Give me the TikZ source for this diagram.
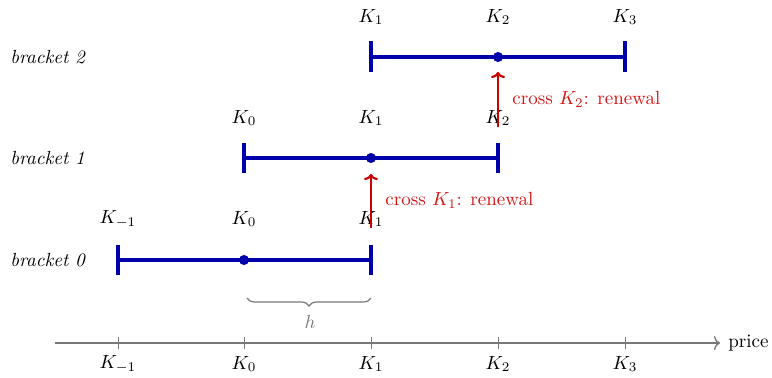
\documentclass[tikz,border=0pt]{standalone}
\usetikzlibrary{decorations.pathreplacing,arrows.meta}
\definecolor{brblue}{RGB}{0,0,170}
\definecolor{crred}{RGB}{204,0,0}
\definecolor{crtext}{RGB}{212,20,20}
\definecolor{axgray}{RGB}{120,120,120}
\tikzset{
  bracketline/.style={brblue, line width=2.1pt},
  endtick/.style={brblue, line width=2.1pt},
  dotmark/.style={circle, fill=brblue, inner sep=0pt, minimum size=5.3pt},
  blabel/.style={anchor=west, font=\itshape, inner sep=0pt},
  crossarrow/.style={crred, line width=1.15pt, -{To[length=3.2pt,width=7.4pt]}},
  crosslabel/.style={crtext, anchor=west, inner sep=0pt},
  axisline/.style={axgray, line width=0.7pt, -{To[length=3.2pt,width=7.4pt]}},
  axtick/.style={axgray, line width=0.45pt},
}
\begin{document}
\begin{tikzpicture}[x=0.5263pt,y=-0.5263pt]
\useasboundingbox (0,0) rectangle (772,378);
% axis
\coordinate (axs) at (55,343);
\coordinate (axe) at (720,343);
\draw[axisline] (axs) -- (axe);
\node[anchor=west, inner sep=0pt] (price) at (728,343) {price};
\foreach \x/\l/\n in {118/{-1}/m,244/0/a,371/1/b,498/2/c,625/3/d}{
  \coordinate (t\n u) at (\x,337);
  \coordinate (t\n d) at (\x,349);
  \draw[axtick] (t\n u) -- (t\n d);
  \node (al\n) at (\x,364) {$K_{\l}$};
}
% bracket 0
\coordinate (b0l) at (118,260); \coordinate (b0r) at (371,260);
\draw[bracketline] (b0l) -- (b0r);
\draw[endtick] (118,245) -- (118,275);
\draw[endtick] (371,245) -- (371,275);
\node[dotmark] (b0d) at (244,260) {};
\node (k0a) at (118,219) {$K_{-1}$};
\node (k0b) at (244,219) {$K_{0}$};
\node (k0c) at (371,219) {$K_{1}$};
\node[blabel] (bl0) at (10,260) {bracket 0};
% bracket 1
\coordinate (b1l) at (244,158); \coordinate (b1r) at (498,158);
\draw[bracketline] (b1l) -- (b1r);
\draw[endtick] (244,143) -- (244,173);
\draw[endtick] (498,143) -- (498,173);
\node[dotmark] (b1d) at (371,158) {};
\node (k1a) at (244,118) {$K_{0}$};
\node (k1b) at (371,118) {$K_{1}$};
\node (k1c) at (498,118) {$K_{2}$};
\node[blabel] (bl1) at (10,158) {bracket 1};
% bracket 2
\coordinate (b2l) at (371,57); \coordinate (b2r) at (625,57);
\draw[bracketline] (b2l) -- (b2r);
\draw[endtick] (371,41) -- (371,72);
\draw[endtick] (625,41) -- (625,72);
\node[dotmark] (b2d) at (498,57) {};
\node (k2a) at (371,17) {$K_{1}$};
\node (k2b) at (498,17) {$K_{2}$};
\node (k2c) at (625,17) {$K_{3}$};
\node[blabel] (bl2) at (10,57) {bracket 2};
% cross arrows
\coordinate (c1s) at (371,228); \coordinate (c1e) at (371,174);
\draw[crossarrow] (c1s) -- (c1e);
\node[crosslabel] (cl1) at (385,200) {cross $K_1$: renewal};
\coordinate (c2s) at (498,127); \coordinate (c2e) at (498,72);
\draw[crossarrow] (c2s) -- (c2e);
\node[crosslabel] (cl2) at (512,99) {cross $K_2$: renewal};
% brace
\coordinate (brl) at (247,298); \coordinate (brr) at (371,298);
\draw[axgray, line width=0.63pt, decorate, decoration={brace, mirror, amplitude=4.2pt}] (brl) -- (brr);
\node[axgray] (hl) at (310,322) {$h$};
\end{tikzpicture}
\end{document}
